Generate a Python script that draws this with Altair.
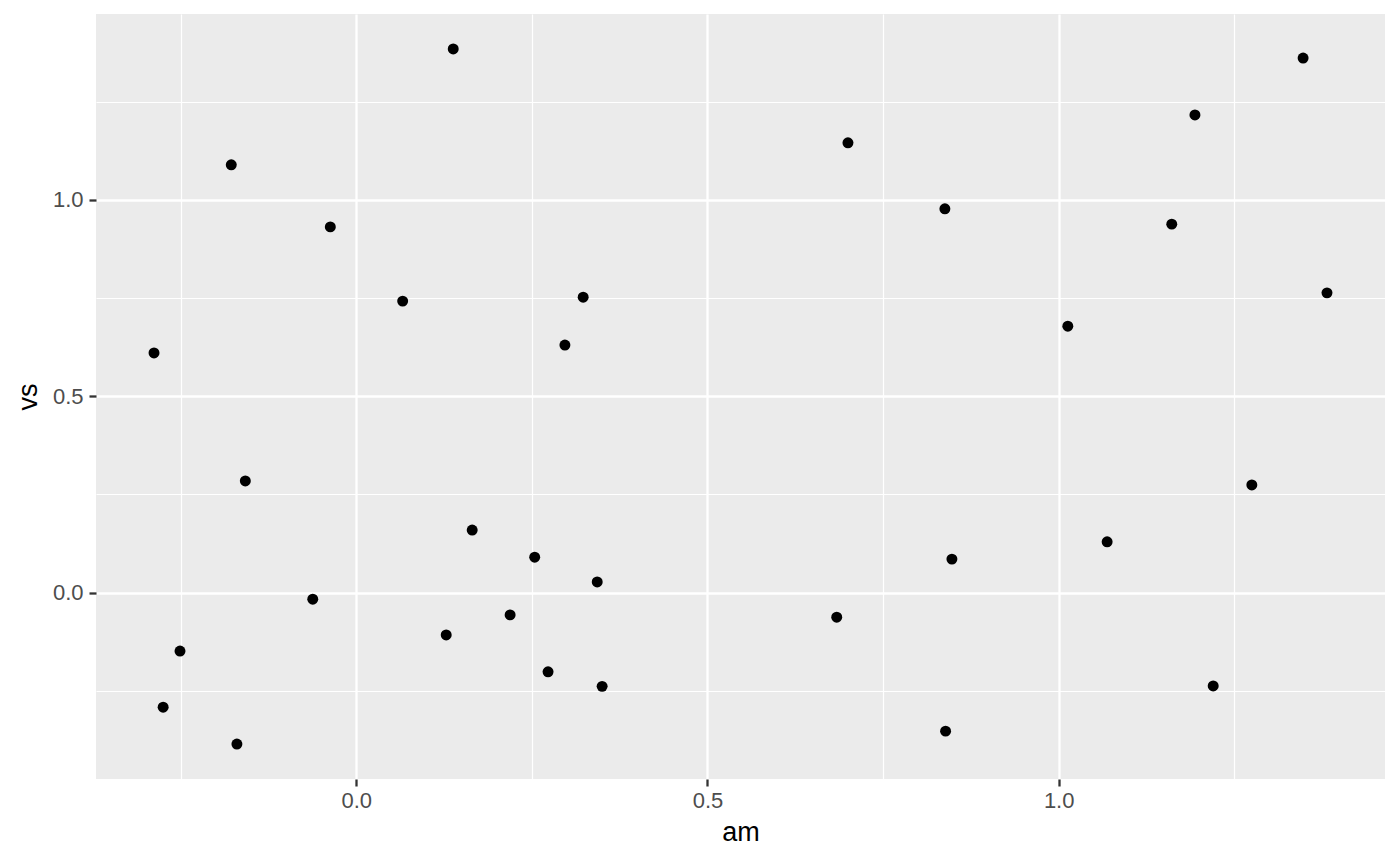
import altair as alt
import pandas as pd

am = [-0.288, -0.275, -0.251, -0.178, -0.170, -0.158, -0.062, -0.037, 0.066, 0.128,
      0.138, 0.165, 0.219, 0.254, 0.273, 0.297, 0.323, 0.343, 0.350, 0.684,
      0.700, 0.838, 0.839, 0.848, 1.013, 1.069, 1.161, 1.194, 1.220, 1.275,
      1.348, 1.382]
vs = [0.610, -0.292, -0.149, 1.089, -0.386, 0.284, -0.017, 0.931, 0.742, -0.108,
      1.384, 0.159, -0.057, 0.090, -0.202, 0.630, 0.752, 0.027, -0.239, -0.063,
      1.145, 0.977, -0.353, 0.085, 0.678, 0.129, 0.938, 1.216, -0.238, 0.274,
      1.361, 0.763]
x_breaks = [-0.25, 0.0, 0.25, 0.5, 0.75, 1.0, 1.25]
y_breaks = [-0.25, 0.0, 0.25, 0.5, 0.75, 1.0, 1.25]

df = pd.DataFrame({"am": am, "vs": vs})

major = "abs(datum.value % 0.5) < 1e-9"

def make_axis(values, title, label_pad, title_pad):
    return alt.Axis(
        values=values,
        title=title,
        domain=False,
        grid=True,
        gridColor="white",
        gridOpacity=1,
        gridWidth={"condition": {"test": major, "value": 2.3}, "value": 1.2},
        tickColor="#333333",
        tickWidth=2.3,
        tickSize=7,
        tickOpacity={"condition": {"test": major, "value": 1}, "value": 0},
        labelExpr="abs(datum.value % 0.5) < 1e-9 ? format(datum.value, '.1f') : ''",
        labelFont="Liberation Sans",
        labelFontSize=22,
        labelColor="#4D4D4D",
        labelPadding=label_pad,
        titleFont="Liberation Sans",
        titleFontSize=27,
        titleFontWeight="normal",
        titleColor="black",
        titlePadding=title_pad,
        labelOverlap=False,
    )

chart = alt.Chart(df).mark_circle(size=120, color="black", opacity=1).encode(
    x=alt.X("am:Q", scale=alt.Scale(domain=[-0.3706, 1.4646], nice=False, zero=False),
            axis=make_axis(x_breaks, "am", 4, 8)),
    y=alt.Y("vs:Q", scale=alt.Scale(domain=[-0.4749, 1.4731], nice=False, zero=False),
            axis=make_axis(y_breaks, "vs", 6, 10)),
).properties(
    width=1289,
    height=765,
    autosize=alt.AutoSizeParams(type="none"),
    padding={"left": 88, "top": 6, "right": 7, "bottom": 80},
    background="white",
).configure_view(
    fill="#EBEBEB",
    strokeWidth=0,
)

chart.save("out.html", embed_options={"renderer": "svg", "actions": False})
